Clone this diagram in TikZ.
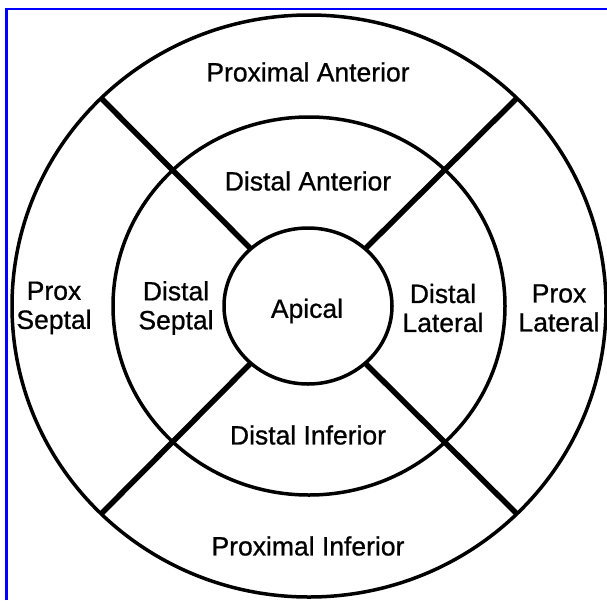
\documentclass[tikz,border=0pt]{standalone}
\usepackage{fontspec}
\setmainfont[FakeBold=0.8]{Liberation Sans}
\usetikzlibrary{shapes.geometric}
\begin{document}
\begin{tikzpicture}[x=1pt,y=-1pt,
  ring/.style={draw=black, line width=3.5pt, shape=ellipse, inner sep=0pt, outer sep=0pt},
  divider/.style={draw=black, line width=5.5pt},
  lbl/.style={font=\fontsize{26.5}{29}\selectfont, align=center, inner sep=0pt},
  frame/.style={draw={rgb,255:red,0;green,0;blue,255}, line width=2.5pt}]
\useasboundingbox (0,0) rectangle (607,600);
\coordinate (fa) at (6.5,600);
\coordinate (fb) at (6.5,9);
\coordinate (fc) at (607,9);
\draw[frame] (fa) -- (fb) -- (fc);
\node[ring, minimum width=594pt, minimum height=582pt] (outer) at (309,306) {};
\node[ring, minimum width=392pt, minimum height=378pt] (mid) at (309,306) {};
\node[ring, minimum width=168pt, minimum height=156pt] (inner) at (308,306) {};
\draw[divider] (inner.135) -- (outer.135);
\draw[divider] (inner.45) -- (outer.45);
\draw[divider] (inner.225) -- (outer.225);
\draw[divider] (inner.315) -- (outer.315);
\node[lbl] (pa) at (308,72) {Proximal Anterior};
\node[lbl] (da) at (308,181) {Distal Anterior};
\node[lbl] (ps) at (54,308) {Prox\\Septal};
\node[lbl] (ds) at (176,308) {Distal\\Septal};
\node[lbl] (ap) at (307,311) {Apical};
\node[lbl] (dl) at (443,308) {Distal\\Lateral};
\node[lbl] (pl) at (559,308) {Prox\\Lateral};
\node[lbl] (di) at (308,435) {Distal Inferior};
\node[lbl] (pi) at (308,546) {Proximal Inferior};
\end{tikzpicture}
\end{document}
